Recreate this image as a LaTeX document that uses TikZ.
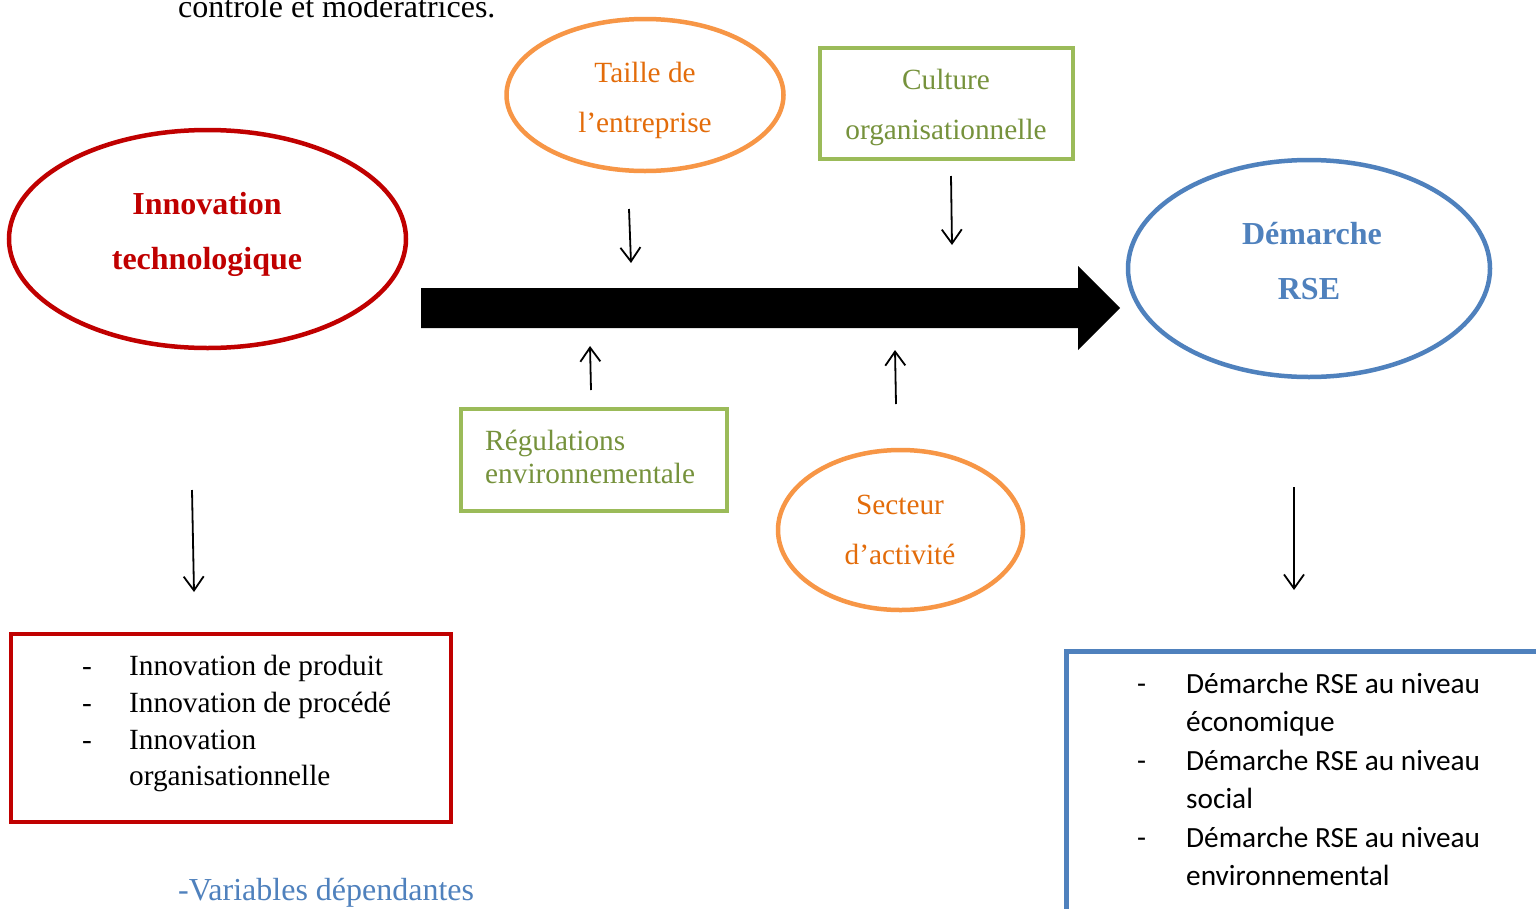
\documentclass[tikz,border=0pt]{standalone}
\usepackage{fontspec}
\setmainfont{Liberation Serif}
\newfontfamily\calibri{Carlito}
\usetikzlibrary{arrows.meta,shapes.geometric}
\definecolor{orstroke}{HTML}{F79646}
\definecolor{ortext}{HTML}{E36C0A}
\definecolor{grstroke}{HTML}{9BBB59}
\definecolor{grtext}{HTML}{76923C}
\definecolor{redc}{HTML}{C00000}
\definecolor{bluec}{HTML}{4F81BD}
\tikzset{
  ell/.style={ellipse, line width=4.5pt, inner sep=0pt},
  boxr/.style={line width=4.5pt},
  txt/.style={anchor=base, inner sep=0pt, font=\fontsize{29.3}{36}\selectfont},
  btxt/.style={anchor=base, inner sep=0pt, font=\fontsize{32}{40}\selectfont\bfseries},
  ltxt/.style={anchor=base west, inner sep=0pt, font=\fontsize{29.3}{36}\selectfont},
  bigltxt/.style={anchor=base west, inner sep=0pt, font=\fontsize{32}{40}\selectfont},
  ctxt/.style={anchor=base west, inner sep=0pt, font=\calibri\fontsize{29.3}{36}\selectfont},
  thin arrow/.style={line width=1.8pt, -{Straight Barb[length=14pt,width=20pt,line width=1.8pt]}}
}
\begin{document}
\begin{tikzpicture}[x=1pt,y=-1pt]
\useasboundingbox (0,0) rectangle (1536,908);
\fill[white] (0,0) rectangle (1536,908);

% top text (cut off at the top edge, as in the reference)
\node[bigltxt] (toptext) at (178,17) {contrôle et modératrices.};

% Taille de l'entreprise
\node[ell, draw=orstroke, minimum width=277pt, minimum height=152pt] (taille) at (645,95) {};
\node[txt, text=ortext] (taille1) at (645,82) {Taille de};
\node[txt, text=ortext] (taille2) at (645,132) {l’entreprise};

% Culture organisationnelle
\draw[boxr, draw=grstroke] (820,48) rectangle (1073,159);
\node[inner sep=0pt, minimum width=253pt, minimum height=111pt] (culture) at (946.5,103.5) {};
\node[txt, text=grtext] (culture1) at (946,89) {Culture};
\node[txt, text=grtext] (culture2) at (946,139) {organisationnelle};

% Innovation technologique
\node[ell, draw=redc, minimum width=397pt, minimum height=218pt] (innov) at (207.5,239) {};
\node[btxt, text=redc] (innov1) at (207,214) {Innovation};
\node[btxt, text=redc] (innov2) at (207,269) {technologique};

% Demarche RSE
\node[ell, draw=bluec, minimum width=362pt, minimum height=217pt] (rse) at (1309,268.5) {};
\node[btxt, text=bluec] (rse1) at (1312,244) {Démarche};
\node[btxt, text=bluec] (rse2) at (1309,299) {RSE};

% Big arrow
\fill[black] (421,288) -- (1078,288) -- (1078,266) -- (1120,308) -- (1078,350) -- (1078,328) -- (421,328) -- cycle;
\coordinate (bigarrow) at (770,308);

% Regulations
\draw[boxr, draw=grstroke] (461,409) rectangle (727,511);
\node[inner sep=0pt, minimum width=266pt, minimum height=102pt] (regul) at (594,460) {};
\node[ltxt, text=grtext] (regul1) at (485,450) {Régulations};
\node[ltxt, text=grtext] (regul2) at (485,483) {environnementale};

% Secteur d'activite
\node[ell, draw=orstroke, minimum width=245pt, minimum height=160pt] (secteur) at (900.5,530) {};
\node[txt, text=ortext] (secteur1) at (900,514) {Secteur};
\node[txt, text=ortext] (secteur2) at (900,564) {d’activité};

% small arrows
\coordinate (a1s) at (629,209); \coordinate (a1e) at (631,263);
\coordinate (a2s) at (951,176); \coordinate (a2e) at (952,245);
\coordinate (a3s) at (591,390); \coordinate (a3e) at (590,346);
\coordinate (a4s) at (896,404); \coordinate (a4e) at (895,350);
\coordinate (a5s) at (192,490); \coordinate (a5e) at (194,592);
\coordinate (a6s) at (1294,487); \coordinate (a6e) at (1294,590);
\draw[thin arrow] (a1s) -- (a1e);
\draw[thin arrow] (a2s) -- (a2e);
\draw[thin arrow] (a3s) -- (a3e);
\draw[thin arrow] (a4s) -- (a4e);
\draw[thin arrow] (a5s) -- (a5e);
\draw[thin arrow] (a6s) -- (a6e);

% Left red box
\draw[boxr, draw=redc] (11,634) rectangle (451,822);
\node[inner sep=0pt, minimum width=440pt, minimum height=188pt] (leftbox) at (231,728) {};
\node[ltxt] (ld1) at (82,675) {-};
\node[ltxt] (lt1) at (129,675) {Innovation de produit};
\node[ltxt] (ld2) at (82,712) {-};
\node[ltxt] (lt2) at (129,712) {Innovation de procédé};
\node[ltxt] (ld3) at (82,749) {-};
\node[ltxt] (lt3) at (129,749) {Innovation};
\node[ltxt] (lt4) at (129,785) {organisationnelle};

% Right blue box
\draw[line width=5pt, draw=bluec] (1066.5,960) -- (1066.5,651.5) -- (1560,651.5);
\node[inner sep=0pt, minimum width=470pt, minimum height=257pt] (rightbox) at (1301,780) {};
\node[ctxt] (rd1) at (1137,693) {-};
\node[ctxt] (rt1) at (1186,693) {Démarche RSE au niveau};
\node[ctxt] (rt2) at (1186,731) {économique};
\node[ctxt] (rd2) at (1137,770) {-};
\node[ctxt] (rt3) at (1186,770) {Démarche RSE au niveau};
\node[ctxt] (rt4) at (1186,808) {social};
\node[ctxt] (rd3) at (1137,847) {-};
\node[ctxt] (rt5) at (1186,847) {Démarche RSE au niveau};
\node[ctxt] (rt6) at (1186,885) {environnemental};

% bottom label
\node[bigltxt, text=bluec] (vardep) at (178,900) {-Variables dépendantes};
\end{tikzpicture}
\end{document}
